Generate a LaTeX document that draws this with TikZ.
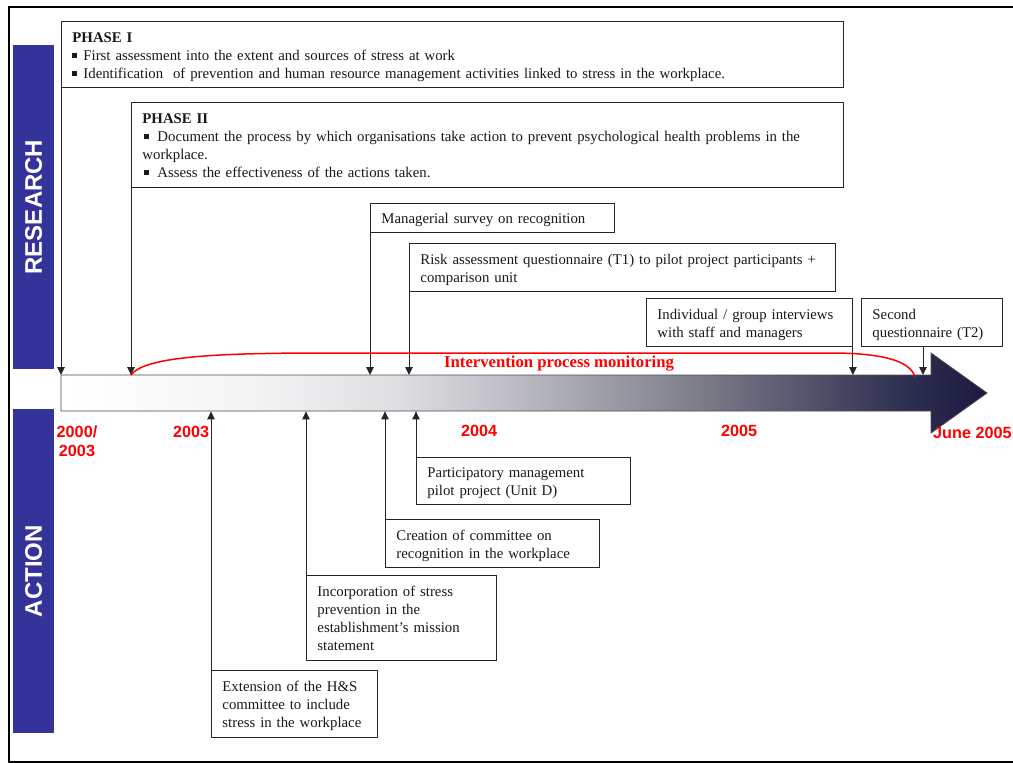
\documentclass[tikz,border=0pt]{standalone}
\usepackage{fontspec}
\setmainfont{Liberation Serif}
\setsansfont{Liberation Sans}
\usetikzlibrary{arrows.meta,calc}
\definecolor{barblue}{RGB}{51,51,153}
\definecolor{gA}{RGB}{244,244,245}
\definecolor{gB}{RGB}{222,222,226}
\definecolor{gC}{RGB}{186,186,193}
\definecolor{gD}{RGB}{128,128,140}
\definecolor{gE}{RGB}{48,48,82}
\definecolor{gF}{RGB}{26,26,66}
\definecolor{txt}{RGB}{25,25,25}
\pgfdeclarehorizontalshading{tlshade}{100bp}{color(0bp)=(white); color(25bp)=(white); color(35.2bp)=(gA); color(43.3bp)=(gB); color(49.8bp)=(gC); color(59bp)=(gD); color(70.3bp)=(gE); color(75bp)=(gF); color(100bp)=(gF)}
\newcommand\sqb{\rule[2.5pt]{5pt}{5pt}}
\begin{document}
\begin{tikzpicture}[x=1pt,y=-1pt,
  box/.style={draw=black!85, line width=0.9pt, fill=white, anchor=north west,
    inner xsep=11pt, inner ysep=5.5pt, align=left, text=txt,
    font=\fontsize{14.8}{18}\selectfont,
    execute at begin node={\rule{0pt}{15pt}}, execute at end node={\rule[-3pt]{0pt}{3pt}}},
  conn/.style={line width=0.9pt, draw=black!85, -{Triangle[length=8pt,width=7.5pt]}},
  year/.style={text=red, font=\sffamily\bfseries\fontsize{16.2}{19}\selectfont, inner sep=0pt},
  sidebar/.style={fill=barblue, rotate=90, minimum width=324pt, minimum height=41pt, inner sep=0pt,
    text=white, font=\sffamily\bfseries\fontsize{24}{28}\selectfont}]
\useasboundingbox (0,0) rectangle (1013,763);
% frame
\draw[line width=2pt] (1013,7) -- (9,7) -- (9,762) -- (1013,762);
% side bars
\node[sidebar] (research) at (33.5,207) {RESEARCH};
\node[sidebar] (action) at (33.5,571) {ACTION};
% timeline
\shadedraw[shading=tlshade, draw=black!70, line width=0.8pt]
  (61,375) -- (931,375) -- (931,353) -- (987,393) -- (931,433) -- (931,411) -- (61,411) -- cycle;
\node[minimum width=870pt, minimum height=36pt, inner sep=0pt, anchor=north west] (tl) at (61,375) {};
% research boxes
\node[box, text width=760pt, minimum height=66pt] (p1) at (61,21) {{\bfseries PHASE I}\\
\sqb\hspace{6pt}First assessment into the extent and sources of stress at work\\
\sqb\hspace{6pt}Identification\ \ of prevention and human resource management activities linked to stress in the workplace.};
\node[box, text width=690pt, minimum height=85pt] (p2) at (131,102) {{\bfseries PHASE II}\\
\hspace*{2pt}\sqb\hspace{8pt}Document the process by which organisations take action to prevent psychological health problems in the\\
workplace.\\
\hspace*{2pt}\sqb\hspace{8pt}Assess the effectiveness of the actions taken.};
\node[box, text width=222pt, minimum height=29pt] (mgr) at (370,203) {Managerial survey on recognition};
\node[box, text width=404pt, minimum height=48pt] (risk) at (409,243) {Risk assessment questionnaire (T1) to pilot project participants +\\comparison unit};
\node[box, text width=184pt, minimum height=48pt] (indiv) at (646,298) {Individual / group interviews\\with staff and managers};
\node[box, text width=119pt, minimum height=48pt] (second) at (861,298) {Second\\questionnaire (T2)};
% action boxes
\node[box, text width=192pt, minimum height=47pt] (part) at (416,457) {Participatory management\\pilot project (Unit D)};
\node[box, text width=192pt, minimum height=48pt] (create) at (385,519) {Creation of committee on\\recognition in the workplace};
\node[box, text width=168pt, minimum height=85pt] (incorp) at (306,575) {Incorporation of stress\\prevention in the\\establishment’s mission\\statement};
\node[box, text width=144pt, minimum height=67pt] (ext) at (211,670) {Extension of the H\&S\\committee to include\\stress in the workplace};
% connectors down to the timeline
\draw[conn] (p1.south west) -- (p1.south west |- tl.north);
\draw[conn] (p2.south west) -- (p2.south west |- tl.north);
\draw[conn] (mgr.south west) -- (mgr.south west |- tl.north);
\draw[conn] (risk.south west) -- (risk.south west |- tl.north);
\draw[conn] (indiv.south east) -- (indiv.south east |- tl.north);
\coordinate (sq) at ($(second.south west)+(62,0)$);
\draw[conn] (sq) -- (sq |- tl.north);
% connectors up to the timeline
\draw[conn] (part.north west) -- (part.north west |- tl.south);
\draw[conn] (create.north west) -- (create.north west |- tl.south);
\draw[conn] (incorp.north west) -- (incorp.north west |- tl.south);
\draw[conn] (ext.north west) -- (ext.north west |- tl.south);
% monitoring curve
\draw[red, line width=1.5pt] (p2.south west |- tl.north) .. controls (145,355) and (230,353) .. (330,353)
  -- (830,353) .. controls (880,353) and (910,360) .. (915,377);
\node[anchor=base west, text=red, inner sep=0pt, font=\bfseries\fontsize{16.7}{20}\selectfont] (ipm) at (444,367) {Intervention process monitoring};
% years
\node[year, anchor=base, text width=44pt, align=center] (y0) at (77,437) {2000/\\[0pt]2003};
\node[year, anchor=base west] (y3) at (173,437) {2003};
\node[year, anchor=base west] (y4) at (461,436) {2004};
\node[year, anchor=base west] (y5) at (721,436) {2005};
\node[year, anchor=base west] (y6) at (933,438) {June 2005};
\end{tikzpicture}
\end{document}
